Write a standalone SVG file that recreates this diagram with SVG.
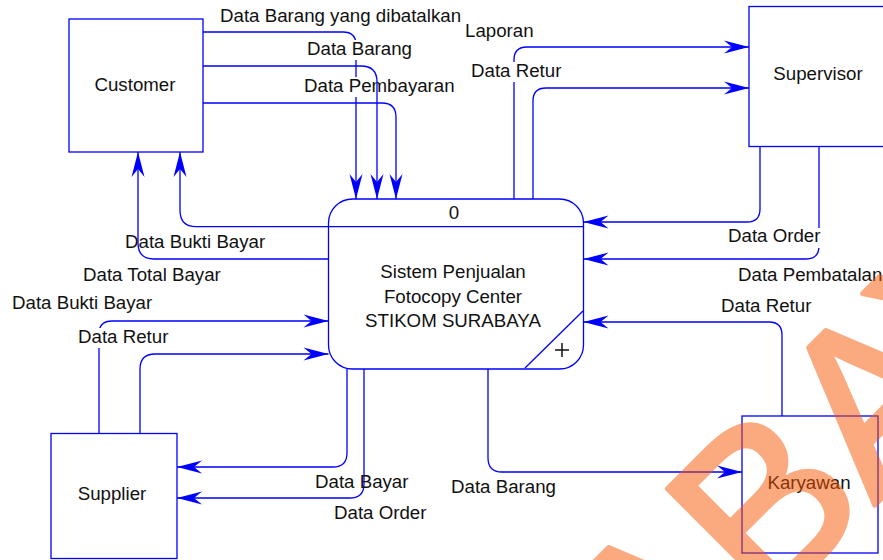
<svg xmlns="http://www.w3.org/2000/svg" width="883" height="560" viewBox="0 0 883 560">
<style>
  .box{fill:#fff;stroke:#0000FF;stroke-width:1.3}
  .ln{fill:none;stroke:#0000FF;stroke-width:1.3}
  .t{font-family:"Liberation Sans",Arial,sans-serif;font-size:18.7px;fill:#111}
  .c{text-anchor:middle}
  .bg{fill:#fff}
  .wm{font-family:"Liberation Sans",Arial,sans-serif;font-size:230px;fill:#F95500;stroke:#F95500;stroke-width:5;stroke-linejoin:round;opacity:0.5}
</style>
<defs>
  <marker id="arr" viewBox="-26 -8 27 16" refX="0" refY="0" markerWidth="27" markerHeight="16" markerUnits="userSpaceOnUse" orient="auto">
    <path d="M0,0 L-25,-6.5 L-17,0 L-25,6.5 Z" fill="#0000FF"/>
  </marker>
</defs>
<rect width="883" height="560" fill="#fff"/>

<g id="customer">
  <rect class="box" x="69" y="19" width="134" height="133"/>
  <text class="t c" x="135" y="91">Customer</text>
</g>
<g id="supervisor">
  <rect class="box" x="749" y="6.5" width="150" height="140"/>
  <text class="t c" x="818" y="80">Supervisor</text>
</g>
<g id="supplier">
  <rect class="box" x="51" y="433.5" width="126" height="125"/>
  <text class="t c" x="112" y="500">Supplier</text>
</g>
<g id="karyawan">
  <rect class="box" x="742" y="416" width="136" height="137"/>
  <text class="t c" x="809" y="489">Karyawan</text>
</g>
<g id="process">
  <rect class="box" x="328.5" y="199" width="255" height="170" rx="24" ry="24"/>
  <line class="ln" x1="328.5" y1="226.7" x2="583.5" y2="226.7"/>
  <line class="ln" x1="583" y1="311" x2="525" y2="368"/>
  <text class="t c" x="454" y="218.5">0</text>
  <text class="t c" x="453" y="278.4">Sistem Penjualan</text>
  <text class="t c" x="453" y="302.6">Fotocopy Center</text>
  <text class="t c" x="453" y="326.7">STIKOM SURABAYA</text>
  <path d="M555,350 H569 M562,343 V357" stroke="#111" stroke-width="1.5" fill="none"/>
</g>

<g id="connectors">
  <path class="ln" marker-end="url(#arr)" d="M203,32 H343 Q356,32 356,45 V199"/>
  <path class="ln" marker-end="url(#arr)" d="M203,103 H382 Q396,103 396,117 V199"/>
  <path class="ln" marker-end="url(#arr)" d="M514,199 V60 Q514,47 527,47 H749"/>
  <path class="ln" marker-end="url(#arr)" d="M533,199 V101 Q533,88 546,88 H749"/>
  <path class="ln" marker-end="url(#arr)" d="M760,147 V209 Q760,222 747,222 H583.5"/>
  <path class="ln" marker-end="url(#arr)" d="M819,147 V246 Q819,259 806,259 H583.5"/>
  <path class="ln" marker-end="url(#arr)" d="M782,416 V335 Q782,322 769,322 H583.5"/>
  <path class="ln" marker-end="url(#arr)" d="M488,369 V458 Q488,472 502,472 H742"/>
  <path class="ln" marker-end="url(#arr)" d="M347,368 V453 Q347,467 333,467 H177"/>
  <path class="ln" marker-end="url(#arr)" d="M364,369 V484 Q364,498 350,498 H177"/>
  <path class="ln" marker-end="url(#arr)" d="M99,433.5 V334 Q99,321 112,321 H328.5"/>
  <path class="ln" marker-end="url(#arr)" d="M140,433.5 V369 Q140,354 155,354 H328.5"/>
  <path class="ln" marker-end="url(#arr)" d="M328.5,259 H154 Q138,259 138,243 V152"/>
  <path class="ln" marker-end="url(#arr)" d="M328.5,226.7 H196 Q180,226.7 180,210 V152"/>
</g>

<g id="labels">
  <text class="t" x="220" y="22">Data Barang yang dibatalkan</text>
  <rect class="bg" x="305" y="40" width="110" height="20"/>
  <text class="t" x="307" y="55">Data Barang</text>
  <rect class="bg" x="302" y="77" width="70" height="20"/>
  <text class="t" x="304" y="92">Data Pembayaran</text>
  <text class="t" x="465" y="37">Laporan</text>
  <rect class="bg" x="469" y="62" width="94" height="20"/>
  <text class="t" x="471" y="77.4">Data Retur</text>
  <text class="t" x="125" y="248.4">Data Bukti Bayar</text>
  <text class="t" x="83" y="280.7">Data Total Bayar</text>
  <text class="t" x="12" y="309.4">Data Bukti Bayar</text>
  <rect class="bg" x="76" y="328" width="94" height="20"/>
  <text class="t" x="78" y="343.4">Data Retur</text>
  <rect class="bg" x="726" y="228" width="96" height="20"/>
  <text class="t" x="728" y="242.4">Data Order</text>
  <text class="t" x="738" y="280.7">Data Pembatalan</text>
  <text class="t" x="721" y="311.7">Data Retur</text>
  <text class="t" x="315" y="487.7">Data Bayar</text>
  <text class="t" x="334" y="519.4">Data Order</text>
  <text class="t" x="451" y="493.4">Data Barang</text>
</g>

<g id="connectors-top">
  <path class="ln" marker-end="url(#arr)" d="M203,66 H361 Q377,66 377,82 V199"/>
</g>

<text class="wm" transform="translate(766,614) rotate(-45)" x="-639">SURABAYA</text>
</svg>
